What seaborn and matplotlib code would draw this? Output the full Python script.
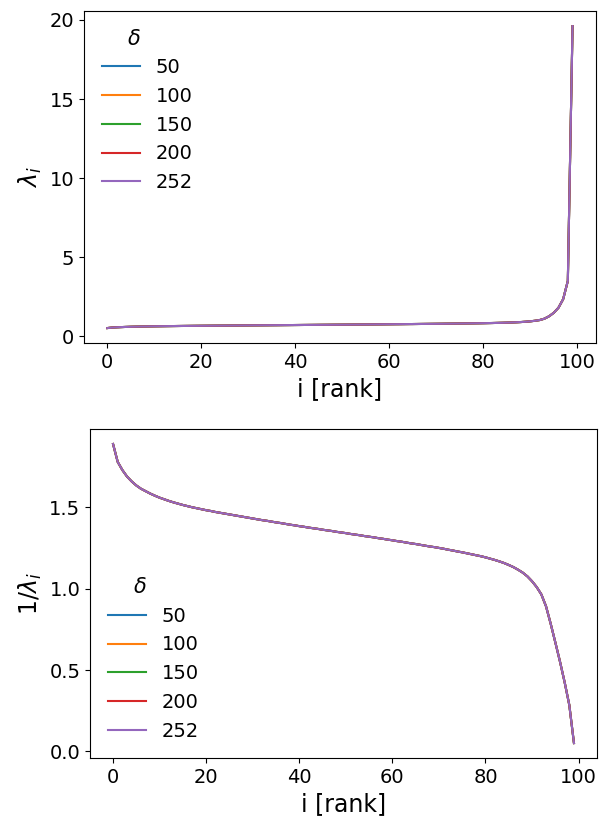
import matplotlib
matplotlib.use("Agg")
import matplotlib.pyplot as plt
import seaborn as sns
import pandas as pd
import numpy as np

# rank index of sorted eigenvalues
ranks = list(range(100))

# 1/lambda_i (identical for every delta at this resolution)
inv_lambda = [
    1.890, 1.780, 1.730, 1.690, 1.660, 1.635, 1.615, 1.600, 1.585, 1.572,
    1.560, 1.550, 1.540, 1.531, 1.523, 1.515, 1.508, 1.501, 1.495, 1.489,
    1.483, 1.478, 1.472, 1.467, 1.462, 1.457, 1.452, 1.447, 1.442, 1.437,
    1.432, 1.427, 1.422, 1.418, 1.413, 1.408, 1.404, 1.399, 1.394, 1.390,
    1.385, 1.381, 1.376, 1.372, 1.368, 1.363, 1.359, 1.355, 1.350, 1.346,
    1.342, 1.337, 1.333, 1.329, 1.324, 1.320, 1.316, 1.311, 1.307, 1.302,
    1.298, 1.293, 1.289, 1.284, 1.279, 1.275, 1.270, 1.265, 1.260, 1.256,
    1.251, 1.246, 1.240, 1.235, 1.229, 1.224, 1.218, 1.212, 1.206, 1.200,
    1.193, 1.185, 1.177, 1.168, 1.158, 1.146, 1.133, 1.117, 1.099, 1.076,
    1.046, 1.010, 0.965, 0.892, 0.785, 0.670, 0.552, 0.425, 0.285, 0.051,
]

deltas = ["50", "100", "150", "200", "252"]
series = {d: inv_lambda for d in deltas}
colors = ["#1f77b4", "#ff7f0e", "#2ca02c", "#d62728", "#9467bd"]

rows = []
for d in deltas:
    for i, v in zip(ranks, series[d]):
        rows.append({"i": i, "delta": d, "inv": v, "lam": 1.0 / v})
df = pd.DataFrame(rows)

plt.rcParams["font.family"] = ["DejaVu Sans"]
fig = plt.figure(figsize=(6.0, 8.21), dpi=100)
ax1 = fig.add_axes([0.14, 0.582, 0.853, 0.4046])
ax2 = fig.add_axes([0.15, 0.0767, 0.845, 0.4007])

palette = dict(zip(deltas, colors))
sns.lineplot(data=df, x="i", y="lam", hue="delta", hue_order=deltas,
             palette=palette, ax=ax1, linewidth=1.5)
sns.lineplot(data=df, x="i", y="inv", hue="delta", hue_order=deltas,
             palette=palette, ax=ax2, linewidth=1.5)

for ax, ylab, loc in [(ax1, r"$\lambda_i$", "upper left"),
                      (ax2, r"$1/\lambda_i$", "lower left")]:
    ax.set_xlabel("i [rank]", fontsize=17)
    ax.set_ylabel(ylab, fontsize=17)
    ax.tick_params(labelsize=14)
    h, l = ax.get_legend_handles_labels()
    leg = ax.legend(h, l, title=r"$\delta$" + "     ", frameon=False,
                    fontsize=14, title_fontsize=15, loc=loc)

ax1.set_yticks([0, 5, 10, 15, 20])
ax2.set_yticks([0.0, 0.5, 1.0, 1.5])

fig.savefig("out.png", dpi=100)
